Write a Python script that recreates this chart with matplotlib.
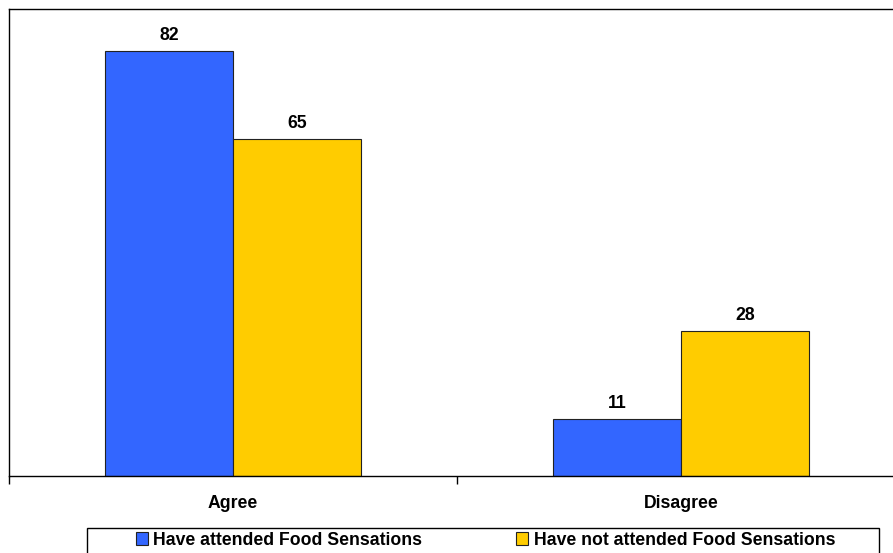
import matplotlib
matplotlib.use("Agg")
import matplotlib.pyplot as plt
from matplotlib.patches import Rectangle
import numpy as np

categories = ["Agree", "Disagree"]
attended = [82, 11]
not_attended = [65, 28]
series_names = ["Have attended Food Sensations", "Have not attended Food Sensations"]

plt.rcParams["font.family"] = ["Liberation Sans", "DejaVu Sans"]
FS = 12.7

W, H = 893, 553
fig = plt.figure(figsize=(W / 100, H / 100), dpi=100)
ax = fig.add_axes([9 / W, 1 - 476 / H, 896 / W, 467 / H])

x = np.arange(len(categories))
bw = 1 / 3.5
b1 = ax.bar(x - bw / 2, attended, bw, color="#3366FF", edgecolor="#222222", linewidth=0.8,
            label=series_names[0])
b2 = ax.bar(x + bw / 2, not_attended, bw, color="#FFCC00", edgecolor="#222222", linewidth=0.8,
            label=series_names[1])

for bars, vals in ((b1, attended), (b2, not_attended)):
    for r, v in zip(bars, vals):
        ax.text(r.get_x() + r.get_width() / 2, v + 2.1, f"{v}", ha="center", va="baseline",
                fontsize=FS, fontweight="bold")

ax.set_xlim(-0.5, 1.5)
ax.set_ylim(0, 90)
ax.set_yticks([])
ax.set_xticks([-0.5, 0.5, 1.5])
ax.set_xticklabels([])
ax.set_xticks(x, minor=True)
ax.set_xticklabels(categories, minor=True, fontsize=FS, fontweight="bold")
ax.tick_params(axis="x", which="major", length=6, width=1, direction="out")
ax.tick_params(axis="x", which="minor", length=0, pad=14)
for s in ax.spines.values():
    s.set_linewidth(1)
    s.set_color("black")

# legend box runs off the bottom edge of the figure
fig.add_artist(Rectangle((87 / W, -0.1), 792 / W, (1 - 528 / H) + 0.1,
                         transform=fig.transFigure, fill=False,
                         edgecolor="black", linewidth=1))
leg = fig.legend(handles=[b1, b2], labels=series_names, loc="upper left",
                 bbox_to_anchor=(136 / W, 1 - 532 / H),
                 ncol=2, frameon=False, borderaxespad=0, borderpad=0,
                 handlelength=0.68, handleheight=0.75,
                 handletextpad=0.3, columnspacing=5.33,
                 prop={"size": FS, "weight": "bold"})

fig.savefig("out.png", dpi=100)
